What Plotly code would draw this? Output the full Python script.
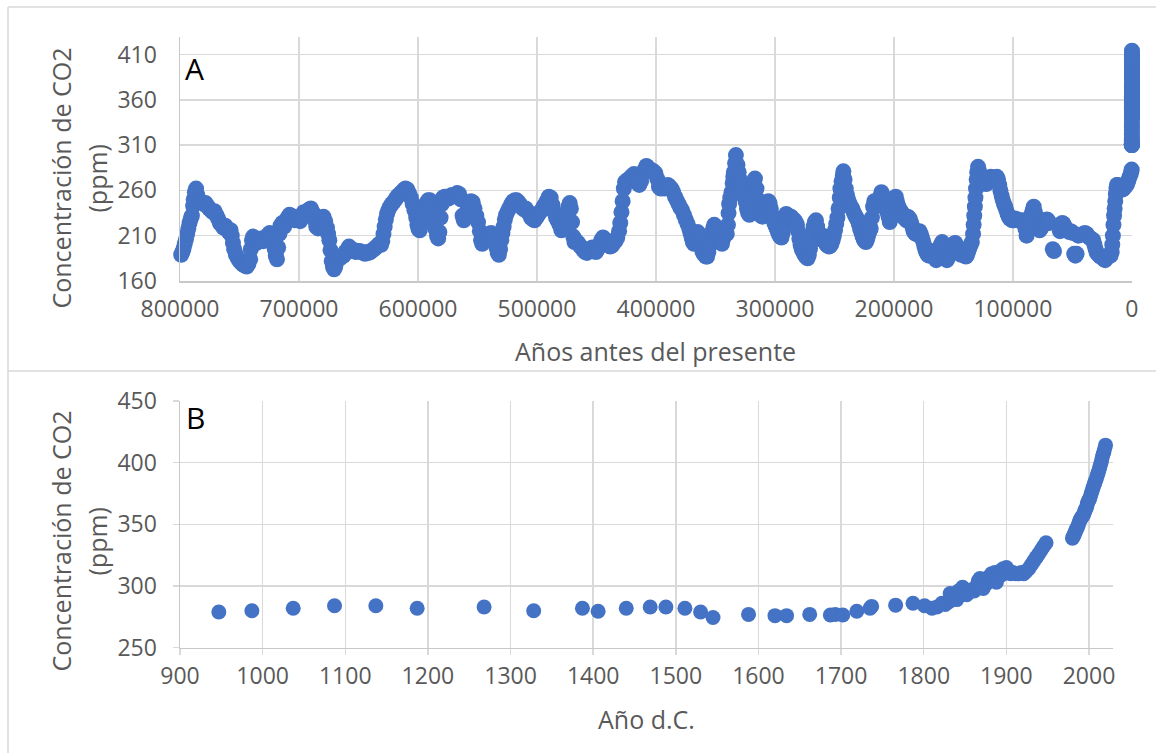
import plotly.graph_objects as go

# ---------------- DATA ----------------
# Panel A: ice-core CO2, age in thousands of years before present
age_a_kyr = [
    799.0, 798.0, 797.0, 796.0, 795.0, 794.0, 793.0, 792.0, 791.0, 790.0,
    789.0, 788.5, 787.5, 786.5, 785.5, 784.5, 783.0, 781.5, 780.0, 778.5,
    777.0, 775.5, 774.0, 772.5, 771.0, 769.5, 768.0, 766.5, 765.0, 763.5,
    762.0, 760.5, 759.0, 757.5, 756.5, 755.5, 754.5, 753.0, 751.5, 750.0,
    748.5, 747.0, 745.5, 744.0, 742.5, 741.0, 740.5, 739.5, 738.5, 737.0,
    735.5, 734.0, 732.0, 730.0, 728.0, 726.0, 724.5, 723.0, 721.5, 720.5,
    719.5, 718.5, 717.5, 716.5, 715.5, 714.0, 712.5, 711.0, 709.5, 708.0,
    706.5, 705.0, 703.5, 702.0, 700.5, 699.0, 697.5, 696.0, 694.5, 693.0,
    691.5, 690.0, 688.5, 687.0, 685.5, 684.0, 682.5, 681.0, 679.5, 678.0,
    676.5, 675.5, 674.5, 673.5, 672.5, 671.5, 670.5, 669.5, 668.5, 667.0,
    665.5, 664.0, 662.5, 661.0, 659.5, 658.0, 656.5, 655.0, 653.5, 652.0,
    650.5, 649.0, 647.5, 646.0, 644.5, 643.0, 641.5, 640.0, 638.5, 637.0,
    635.5, 634.0, 632.5, 631.0, 630.0, 629.0, 628.0, 627.0, 626.0, 625.0,
    623.5, 622.0, 620.5, 619.0, 617.5, 616.0, 614.5, 613.0, 611.5, 610.5,
    609.0, 607.5, 606.0, 604.5, 603.0, 601.5, 600.5, 599.5, 598.5, 597.5,
    596.0, 594.5, 593.0, 591.5, 590.0, 588.5, 587.0, 585.5, 584.0, 583.0,
    582.0, 581.0, 580.0, 579.0, 577.5, 576.0, 574.5, 573.0, 571.5, 570.0,
    568.5, 567.0, 565.5, 564.0, 562.5, 561.5, 560.0, 558.5, 557.0, 555.5,
    554.0, 552.5, 551.0, 549.5, 548.0, 547.0, 546.0, 544.5, 543.0, 541.5,
    540.0, 538.5, 537.0, 535.5, 534.0, 533.0, 532.0, 531.0, 530.0, 529.0,
    528.0, 527.0, 526.0, 524.5, 523.0, 521.5, 520.0, 518.5, 517.0, 515.5,
    514.0, 512.5, 511.0, 509.5, 508.0, 506.5, 505.0, 503.5, 502.0, 500.5,
    499.0, 497.5, 496.0, 494.5, 493.0, 491.5, 490.0, 488.5, 487.0, 485.5,
    484.0, 482.5, 481.0, 479.5, 478.0, 476.5, 475.0, 473.5, 472.5, 471.5,
    470.5, 469.5, 468.5, 467.0, 465.5, 464.0, 462.5, 461.0, 459.5, 458.0,
    456.5, 455.0, 453.5, 452.0, 450.5, 449.0, 447.5, 446.0, 444.5, 443.0,
    441.5, 440.0, 438.5, 437.0, 435.5, 434.0, 432.5, 431.0, 430.0, 429.0,
    428.0, 427.0, 426.0, 424.5, 423.0, 421.5, 420.0, 418.5, 417.0, 415.5,
    414.0, 412.5, 411.0, 409.5, 408.0, 406.5, 405.0, 403.5, 402.0, 400.5,
    399.0, 397.5, 396.0, 394.5, 393.0, 391.5, 390.0, 388.5, 387.0, 385.5,
    384.0, 382.5, 381.0, 379.5, 378.0, 376.5, 375.0, 373.5, 372.0, 371.0,
    370.0, 369.0, 368.0, 367.0, 366.0, 365.0, 364.0, 363.0, 362.0, 361.0,
    360.0, 359.0, 358.0, 357.0, 356.0, 355.0, 354.0, 353.0, 352.0, 351.0,
    350.0, 349.0, 348.0, 347.0, 346.0, 345.0, 344.5, 343.5, 342.5, 341.5,
    340.5, 339.5, 339.0, 338.5, 337.5, 336.5, 335.5, 335.0, 334.5, 333.5,
    332.8, 331.5, 330.5, 329.5, 328.5, 327.5, 326.5, 325.5, 324.5, 323.5,
    322.5, 321.5, 320.5, 319.5, 318.5, 317.5, 316.8, 315.5, 314.5, 313.5,
    312.5, 311.5, 310.5, 309.5, 308.5, 307.5, 306.5, 305.5, 304.5, 303.5,
    302.5, 301.5, 300.5, 299.5, 298.5, 297.5, 296.5, 295.5, 294.5, 293.5,
    292.5, 291.5, 290.5, 289.5, 288.5, 287.5, 286.5, 285.5, 284.5, 283.5,
    282.5, 281.5, 280.5, 279.5, 278.5, 277.5, 276.5, 275.5, 274.5, 273.5,
    272.5, 271.5, 270.5, 269.5, 268.5, 267.5, 266.5, 265.5, 264.5, 263.5,
    262.5, 261.5, 260.5, 259.5, 258.5, 257.5, 256.5, 255.5, 254.5, 253.5,
    252.5, 251.5, 250.5, 249.5, 248.5, 247.5, 246.5, 245.5, 245.0, 244.0,
    243.0, 242.5, 241.5, 240.5, 239.5, 238.5, 237.5, 236.5, 235.5, 234.5,
    233.5, 232.5, 231.5, 230.5, 229.5, 228.5, 227.5, 226.5, 225.5, 224.5,
    223.5, 222.5, 221.5, 220.5, 219.5, 218.5, 217.5, 216.5, 215.5, 214.5,
    213.5, 212.5, 211.5, 210.5, 209.5, 208.5, 207.5, 206.5, 205.5, 204.5,
    203.5, 202.5, 201.5, 200.5, 199.5, 198.5, 197.5, 196.5, 195.5, 194.5,
    193.5, 192.5, 191.5, 190.5, 189.5, 188.5, 187.5, 186.5, 185.5, 184.5,
    183.5, 182.5, 181.5, 180.5, 179.5, 178.5, 177.5, 176.5, 175.5, 174.5,
    173.5, 172.5, 171.5, 170.5, 169.5, 168.5, 167.5, 166.5, 165.5, 164.5,
    163.5, 162.5, 161.5, 160.5, 159.5, 158.5, 157.5, 156.5, 155.5, 154.5,
    153.5, 152.5, 151.5, 150.5, 149.5, 148.5, 147.5, 146.5, 145.5, 144.5,
    143.5, 142.5, 141.5, 140.5, 139.5, 138.5, 137.5, 136.5, 135.5, 134.5,
    133.5, 133.0, 132.5, 132.0, 131.5, 131.0, 130.5, 130.0, 129.3, 128.5,
    127.5, 126.5, 125.5, 124.5, 123.5, 122.5, 121.5, 120.5, 119.5, 118.5,
    117.5, 116.5, 115.5, 114.5, 113.5, 112.5, 111.5, 110.5, 109.5, 108.5,
    107.5, 106.5, 105.5, 104.5, 103.5, 102.5, 101.5, 100.5, 99.5, 98.0,
    96.5, 95.0, 93.5, 92.0, 90.5, 89.5, 88.5, 87.5, 86.5, 85.5,
    84.5, 83.5, 82.5, 81.5, 80.5, 79.5, 78.5, 77.5, 76.5, 75.5,
    74.5, 73.5, 72.5, 71.5, 70.5, 69.5, 66.5, 65.5, 60.5, 59.5,
    58.5, 57.5, 56.5, 55.5, 54.5, 53.5, 52.5, 51.5, 50.5, 49.5,
    48.5, 47.5, 46.5, 45.0, 43.0, 41.0, 39.5, 38.0, 36.5, 35.0,
    33.5, 32.5, 31.5, 30.5, 29.5, 28.0, 26.5, 25.0, 23.5, 22.5,
    21.5, 20.0, 19.0, 18.0, 17.0, 16.5, 16.0, 15.5, 15.0, 14.5,
    14.0, 13.5, 13.0, 12.5, 12.0, 11.0, 10.0, 9.0, 8.0, 7.0,
    6.0, 5.0, 4.0, 3.0, 2.0, 1.0, 0.5, 0.2,
]
co2_a = [
    189, 192, 196, 201, 206, 212, 218, 224, 229, 232,
    243, 250, 258, 262, 255, 250, 248, 247, 245, 246,
    243, 240, 238, 236, 237, 233, 229, 224, 222, 219,
    221, 217, 214, 216, 210, 202, 195, 189, 185, 182,
    180, 178, 177, 176, 179, 184, 195, 205, 209, 207,
    202, 205, 207, 204, 208, 211, 213, 209, 204, 196,
    188, 184, 197, 212, 221, 224, 220, 226, 230, 233,
    232, 229, 227, 230, 229, 226, 232, 236, 234, 237,
    239, 240, 236, 228, 220, 218, 222, 226, 231, 226,
    219, 212, 205, 194, 182, 176, 173, 176, 182, 186,
    185, 187, 188, 192, 194, 198, 196, 193, 194, 192,
    193, 193, 192, 191, 190, 192, 191, 192, 194, 195,
    197, 199, 201, 200, 204, 212, 220, 228, 234, 238,
    242, 245, 247, 250, 253, 255, 257, 259, 261, 262,
    261, 257, 252, 245, 238, 230, 222, 217, 216, 222,
    232, 240, 246, 249, 249, 240, 228, 218, 210, 207,
    214, 230, 245, 252, 253, 253, 251, 253, 255, 254,
    254, 257, 256, 250, 232, 227, 232, 238, 244, 248,
    247, 240, 232, 225, 215, 205, 201, 206, 210, 210,
    212, 213, 210, 205, 197, 191, 189, 195, 205, 213,
    220, 228, 233, 237, 241, 245, 248, 249, 249, 247,
    244, 241, 239, 240, 237, 234, 230, 228, 227, 230,
    233, 236, 238, 242, 245, 249, 253, 252, 244, 236,
    230, 226, 222, 216, 222, 230, 236, 242, 246, 240,
    225, 209, 203, 204, 202, 199, 197, 194, 192, 191,
    193, 195, 197, 194, 192, 195, 200, 205, 208, 206,
    203, 200, 198, 199, 202, 204, 208, 215, 224, 236,
    248, 262, 269, 271, 272, 274, 276, 278, 273, 268,
    266, 270, 278, 283, 287, 285, 283, 282, 281, 279,
    273, 264, 262, 264, 262, 265, 266, 264, 262, 258,
    253, 249, 245, 241, 238, 233, 228, 223, 218, 213,
    208, 203, 201, 204, 209, 214, 212, 206, 199, 193,
    190, 189, 187, 187, 192, 199, 206, 212, 218, 222,
    220, 217, 212, 208, 205, 203, 201, 207, 215, 218,
    212, 222, 235, 245, 252, 258, 268, 275, 280, 290,
    299, 288, 280, 272, 266, 262, 258, 253, 247, 240,
    235, 233, 238, 248, 258, 266, 273, 262, 250, 240,
    235, 232, 231, 233, 238, 243, 247, 248, 246, 240,
    233, 228, 224, 221, 218, 214, 211, 209, 208, 213,
    220, 228, 234, 232, 229, 230, 231, 229, 228, 227,
    225, 222, 215, 207, 200, 195, 193, 190, 188, 186,
    185, 189, 196, 205, 213, 220, 225, 227, 220, 212,
    207, 206, 209, 210, 206, 202, 200, 199, 198, 199,
    201, 205, 210, 216, 223, 230, 240, 252, 262, 270,
    276, 281, 272, 262, 255, 250, 246, 243, 241, 238,
    235, 232, 230, 227, 223, 218, 214, 210, 206, 204,
    203, 206, 211, 215, 218, 230, 242, 248, 247, 244,
    243, 247, 253, 258, 255, 250, 245, 240, 236, 231,
    225, 230, 238, 245, 250, 253, 248, 243, 240, 237,
    236, 232, 230, 229, 227, 231, 230, 228, 224, 220,
    215, 213, 212, 214, 211, 215, 212, 208, 204, 199,
    194, 191, 189, 188, 190, 193, 192, 189, 186, 183,
    185, 189, 195, 200, 203, 199, 192, 186, 183, 186,
    190, 194, 197, 199, 201, 202, 199, 195, 192, 190,
    189, 191, 190, 188, 187, 189, 193, 197, 200, 203,
    212, 222, 232, 242, 252, 262, 272, 280, 286, 282,
    276, 274, 272, 270, 268, 267, 268, 272, 274, 275,
    274, 272, 273, 274, 275, 272, 266, 260, 254, 249,
    245, 242, 238, 234, 231, 229, 228, 227, 227, 229,
    228, 227, 226, 227, 225, 218, 210, 215, 221, 228,
    233, 238, 242, 236, 230, 226, 220, 216, 218, 221,
    224, 226, 227, 228, 227, 224, 195, 193, 215, 220,
    224, 223, 220, 218, 216, 215, 214, 215, 214, 213,
    190, 188, 190, 210, 211, 212, 213, 212, 209, 207,
    206, 205, 200, 195, 191, 189, 187, 186, 184, 183,
    185, 187, 189, 188, 192, 200, 210, 222, 232, 240,
    248, 256, 262, 266, 266, 264, 263, 262, 261, 262,
    264, 265, 267, 271, 275, 278, 281, 283,
]

# Panel B: CO2 by calendar year (ice core / firn)
year_b = [
    947, 987, 1037, 1087, 1137, 1187, 1268, 1328, 1387, 1406,
    1440, 1469, 1488, 1511, 1530, 1545, 1588, 1620, 1634, 1662,
    1687, 1693, 1702, 1719, 1735, 1737, 1766, 1787, 1801, 1810,
    1816, 1822, 1826, 1830, 1832, 1834, 1837, 1840, 1842, 1845,
    1847, 1849, 1852, 1855, 1858, 1861, 1864, 1866, 1868, 1870,
    1872, 1874, 1876, 1878, 1880, 1882, 1884, 1886, 1888, 1890,
    1892, 1894, 1896, 1898, 1900, 1902, 1905, 1908, 1911, 1915,
    1918, 1921, 1924, 1927, 1930, 1933, 1936, 1939, 1942, 1945,
    1948,
]
co2_b = [
    279, 280, 282, 284, 284, 282, 283, 280, 282, 279.5,
    282, 283, 283, 282, 279, 274.5, 277, 276, 276, 277,
    276.5, 277, 276.5, 279.5, 282, 283.5, 284.5, 286, 284, 282,
    283, 286, 285, 287, 294, 289, 291, 289, 296, 293,
    299, 294, 293, 296, 297, 296, 300, 304, 306, 300,
    298, 305, 302, 307, 304, 310, 306, 311, 303, 308,
    312, 309, 314, 312, 315, 311, 310, 311, 310, 310,
    311, 310, 312, 314, 317, 320, 323, 326, 329, 332,
    335,
]
# Panel B: direct atmospheric measurements
year_ml = list(range(1980, 2021))
co2_ml = [
    338.8, 340.1, 341.5, 343.2, 344.9, 346.4, 347.6, 349.3, 351.7, 353.2,
    354.4, 355.7, 356.5, 357.2, 358.9, 360.9, 362.7, 363.8, 366.8, 368.5,
    369.7, 371.3, 373.5, 375.9, 377.7, 379.8, 381.9, 383.8, 385.6, 387.4,
    389.9, 391.7, 393.9, 396.5, 398.7, 401.0, 404.4, 406.8, 408.7, 411.7,
    414.2,
]

y_ticks_a = [160, 210, 260, 310, 360, 410]
x_ticks_a = [800000, 700000, 600000, 500000, 400000, 300000, 200000, 100000, 0]
y_ticks_b = [250, 300, 350, 400, 450]
x_ticks_b = [900, 1000, 1100, 1200, 1300, 1400, 1500, 1600, 1700, 1800, 1900, 2000]

# ---------------- STYLE / LAYOUT ----------------
W, H = 1156, 753
BLUE = "#4472C4"
GRID = "#d9d9d9"
AXLINE = "#c8c8c8"
TICKC = "#595959"
FONT = "Open Sans"


def fx(p):
    return p / W


def fy(p):
    return 1 - p / H


fig = go.Figure()

fig.add_trace(go.Scatter(
    x=[a * 1000 for a in age_a_kyr], y=co2_a, mode="markers",
    marker=dict(color=BLUE, size=16, line=dict(width=0)),
    xaxis="x", yaxis="y", cliponaxis=False, showlegend=False, hoverinfo="x+y"))

# recent measurements shown at the present end of panel A (age = 1950 - year)
recent_years = [y for y in year_b if y >= 1900] + year_ml
recent_co2 = [c for y, c in zip(year_b, co2_b) if y >= 1900] + co2_ml
fig.add_trace(go.Scatter(
    x=[1950 - y for y in recent_years], y=recent_co2, mode="markers",
    marker=dict(color=BLUE, size=16, line=dict(width=0)),
    xaxis="x", yaxis="y", cliponaxis=False, showlegend=False))

fig.add_trace(go.Scatter(
    x=year_b + year_ml, y=co2_b + co2_ml, mode="markers",
    marker=dict(color=BLUE, size=15, line=dict(width=0)),
    xaxis="x2", yaxis="y2", cliponaxis=False, showlegend=False))

tickfont = dict(family=FONT, size=23, color=TICKC)
common = dict(showgrid=True, gridcolor=GRID, gridwidth=1.5, showline=True,
              linecolor=AXLINE, linewidth=1.5, zeroline=False, tickfont=tickfont,
              fixedrange=True, automargin=False)

fig.update_layout(
    template="none",
    width=W, height=H,
    margin=dict(l=0, r=0, t=0, b=0, pad=0, autoexpand=False),
    paper_bgcolor="white", plot_bgcolor="white",
    font=dict(family=FONT),
    showlegend=False,
    hovermode=False,
    xaxis=dict(domain=[fx(180), fx(1132)], anchor="y", range=[800000, -80],
               tickvals=x_ticks_a, ticktext=[str(v) for v in x_ticks_a],
               ticks="", ticklabelstandoff=7, **common),
    yaxis=dict(domain=[fy(281), fy(36.7)], anchor="x", range=[160, 429.6],
               tickvals=y_ticks_a, ticks="", ticklabelstandoff=17, **common),
    xaxis2=dict(domain=[fx(180), fx(1113.3)], anchor="y2", range=[900, 2029.4],
                tickvals=x_ticks_b, ticks="outside", ticklen=6, tickcolor=GRID,
                tickwidth=1.5, ticklabelstandoff=1, **common),
    yaxis2=dict(domain=[fy(647.7), fy(401)], anchor="x2", range=[250, 450],
                tickvals=y_ticks_b, ticks="outside", ticklen=6, tickcolor=GRID,
                tickwidth=1.5, ticklabelstandoff=11, **common),
)

title_font = dict(family=FONT, size=25, color=TICKC)
ann = []
for cy in (178.5, 541.5):
    ann.append(dict(text="Concentración de CO2", x=fx(60), y=fy(cy), xref="paper", yref="paper",
                    textangle=-90, showarrow=False, xanchor="center", yanchor="middle",
                    font=title_font))
    ann.append(dict(text="(ppm)", x=fx(96), y=fy(cy), xref="paper", yref="paper",
                    textangle=-90, showarrow=False, xanchor="center", yanchor="middle",
                    font=title_font))
ann.append(dict(text="Años antes del presente", x=fx(655.5), y=fy(351), xref="paper", yref="paper",
                showarrow=False, xanchor="center", yanchor="middle", font=title_font))
ann.append(dict(text="Año d.C.", x=fx(646), y=fy(719), xref="paper", yref="paper",
                showarrow=False, xanchor="center", yanchor="middle", font=title_font))
ann.append(dict(text="A", x=fx(183), y=fy(46), xref="paper", yref="paper",
                showarrow=False, xanchor="left", yanchor="top",
                font=dict(family=FONT, size=30, color="black")))
ann.append(dict(text="B", x=fx(184), y=fy(395), xref="paper", yref="paper",
                showarrow=False, xanchor="left", yanchor="top",
                font=dict(family=FONT, size=30, color="black")))
fig.update_layout(annotations=ann)

border = dict(color=GRID, width=1.5)
fig.update_layout(shapes=[
    dict(type="line", xref="paper", yref="paper", x0=fx(8), x1=1.01, y0=fy(7), y1=fy(7), line=border),
    dict(type="line", xref="paper", yref="paper", x0=fx(8), x1=1.01, y0=fy(371), y1=fy(371), line=border),
    dict(type="line", xref="paper", yref="paper", x0=fx(8), x1=fx(8), y0=fy(7), y1=-0.01, line=border),
])

fig.write_html("out.html", include_plotlyjs=True,
               config={"displayModeBar": False, "staticPlot": True},
               post_script="document.body.style.margin='0';document.body.style.overflow='hidden';")
